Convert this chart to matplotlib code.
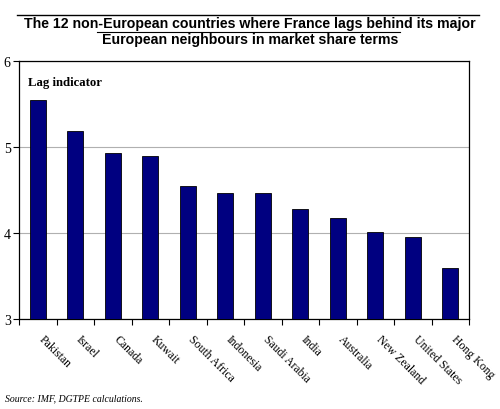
import matplotlib
matplotlib.use("Agg")
import matplotlib.pyplot as plt
from matplotlib.lines import Line2D
from matplotlib.transforms import ScaledTranslation
import numpy as np

countries = ["Pakistan", "Israel", "Canada", "Kuwait", "South Africa", "Indonesia",
             "Saudi Arabia", "India", "Australia", "New Zealand", "United States", "Hong Kong"]
lag = [5.55, 5.18, 4.93, 4.89, 4.55, 4.47, 4.47, 4.28, 4.17, 4.01, 3.95, 3.59]
yticks = [3, 4, 5, 6]

serif = ["Liberation Serif", "DejaVu Serif"]
sans = ["Liberation Sans", "DejaVu Sans"]

fig = plt.figure(figsize=(5, 4.1), dpi=100)
ax = fig.add_axes([0.038, 0.2195, 0.9, 0.6295])

x = np.arange(len(countries))
ax.bar(x, [v - 3 for v in lag], bottom=3, width=0.42, color="#000080",
       edgecolor="black", linewidth=0.6, zorder=3)
ax.set_xlim(-0.5, len(countries) - 0.5)
ax.set_ylim(3, 6)
ax.set_yticks(yticks)
ax.set_yticklabels([str(t) for t in yticks], fontfamily=serif, fontsize=10)
ax.yaxis.grid(True, color="#b0b0b0", linewidth=0.8, zorder=0)
ax.tick_params(axis="y", length=4, width=0.8, pad=2)

ax.set_xticks(x)
ax.set_xticklabels(countries, fontfamily=serif, fontsize=8.5, rotation=-45,
                   ha="left", va="top", rotation_mode="anchor")
ax.tick_params(axis="x", which="major", length=0, pad=10)
shift = ScaledTranslation(7 / 100, 0, fig.dpi_scale_trans)
for lbl in ax.get_xticklabels():
    lbl.set_transform(lbl.get_transform() + shift)
ax.set_xticks(np.arange(-0.5, len(countries), 1), minor=True)
ax.tick_params(axis="x", which="minor", length=4, width=0.8)
for s in ax.spines.values():
    s.set_linewidth(0.9)

ax.text(0.02, 0.92, "Lag indicator", transform=ax.transAxes, fontfamily=serif,
        fontsize=9.2, fontweight="bold", ha="left", va="center")

fig.text(0.5, 0.942, "The 12 non-European countries where France lags behind its major",
         ha="center", va="center", fontfamily=sans, fontsize=10.2, fontweight="bold")
fig.text(0.5, 0.902, "European neighbours in market share terms",
         ha="center", va="center", fontfamily=sans, fontsize=10.2, fontweight="bold")
fig.add_artist(Line2D([17/500, 479/500], [1 - 16/410, 1 - 16/410], color="black", linewidth=1))
fig.add_artist(Line2D([97/500, 400/500], [1 - 32.5/410, 1 - 32.5/410], color="black", linewidth=0.8))

fig.text(0.01, 1 - 399/410, "Source: IMF, DGTPE calculations.", fontfamily=serif,
         fontsize=7, style="italic", ha="left", va="center")

fig.savefig("out.png", dpi=100)
